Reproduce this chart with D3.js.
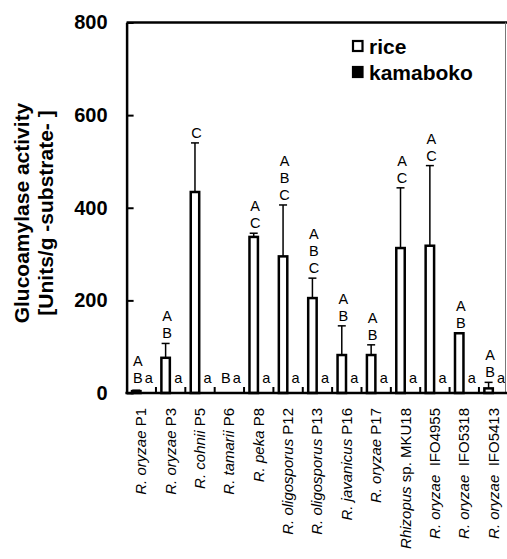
<!DOCTYPE html>
<html lang="en">
<head>
<meta charset="UTF-8">
<title>Glucoamylase activity</title>
<script src="https://d3js.org/d3.v7.min.js"></script>
<style>
    body { margin: 0; background: #fff; }
    svg { font-family: "Liberation Sans", Arial, sans-serif; }
    .tick text { font-size: 20px; font-weight: bold; }
    .letter { font-size: 14.5px; }
    .xlabel { font-size: 15px; }
    .pre { white-space: pre; }
</style>
</head>
<body>
<div id="chart"></div>
<script>
    // strain names: italic genus/species part + plain strain code
    const strainItalic = ["R. oryzae", "R. oryzae", "R. cohnii", "R. tamarii", "R. peka", "R. oligosporus",
        "R. oligosporus", "R. javanicus", "R. oryzae", "Rhizopus", "R. oryzae", "R. oryzae", "R. oryzae"];
    const strainCode = [" P1", " P3", " P5", " P6", " P8", " P12", " P13", " P16", " P17",
        " sp. MKU18", "  IFO4955", "  IFO5318", "  IFO5413"];
    const series = ["rice", "kamaboko"];
    const riceValues = [4, 76, 434, 0, 337, 295, 205, 82, 82, 313, 318, 129, 10];
    const riceErrors = [2, 31, 106, 0, 8, 111, 43, 63, 22, 130, 173, 0, 13];
    const kamabokoValues = [0, 0, 0, 0, 0, 0, 0, 0, 0, 0, 0, 0, 0];
    const kamabokoErrors = [0, 0, 0, 0, 0, 0, 0, 0, 0, 0, 0, 0, 0];
    const riceLetters = [["A", "B"], ["A", "B"], ["C"], ["B"], ["A", "C"], ["A", "B", "C"], ["A", "B", "C"],
        ["A", "B"], ["A", "B"], ["A", "C"], ["A", "C"], ["A", "B"], ["A", "B"]];
    const kamabokoLetters = ["a", "a", "a", "a", "a", "a", "a", "a", "a", "a", "a", "a", "a"];
    const yTicks = [0, 200, 400, 600, 800];

    const width = 507, height = 559;
    const plotLeft = 126.6, plotRight = 508.3, plotTop = 22.5, plotBottom = 393;

    const svg = d3.select("#chart").append("svg")
        .attr("width", width)
        .attr("height", height);

    const x = d3.scaleBand()
        .domain(strainCode.map((d, i) => i))
        .range([plotLeft, plotRight])
        .padding(0);

    const xs = d3.scaleBand()
        .domain(series)
        .range([0, x.bandwidth()])
        .paddingOuter(0.46);

    const y = d3.scaleLinear()
        .domain([0, 800])
        .range([plotBottom, plotTop]);

    const rows = strainCode.map((d, i) => ({
        i: i,
        rice: riceValues[i], riceErr: riceErrors[i], riceLet: riceLetters[i],
        kama: kamabokoValues[i], kamaErr: kamabokoErrors[i], kamaLet: kamabokoLetters[i]
    }));

    // bars
    const barW = xs.bandwidth() - 1.6;
    const g = svg.append("g");
    rows.forEach(r => {
        [["rice", r.rice, "#fff"], ["kamaboko", r.kama, "#000"]].forEach(([s, v, fill]) => {
            if (v <= 0) return;
            const cx = x(r.i) + xs(s) + xs.bandwidth() / 2;
            g.append("rect")
                .attr("x", cx - barW / 2)
                .attr("y", y(v))
                .attr("width", barW)
                .attr("height", y(0) - y(v))
                .attr("fill", fill)
                .attr("stroke", "#000")
                .attr("stroke-width", 2.5);
        });
    });

    // error bars
    rows.forEach(r => {
        if (r.riceErr <= 0) return;
        const cx = x(r.i) + xs("rice") + xs.bandwidth() / 2;
        g.append("line")
            .attr("x1", cx).attr("x2", cx)
            .attr("y1", y(r.rice)).attr("y2", y(r.rice + r.riceErr))
            .attr("stroke", "#000").attr("stroke-width", 1.5);
        g.append("line")
            .attr("x1", cx - 4).attr("x2", cx + 4)
            .attr("y1", y(r.rice + r.riceErr)).attr("y2", y(r.rice + r.riceErr))
            .attr("stroke", "#000").attr("stroke-width", 1.5);
    });

    // significance letters
    rows.forEach(r => {
        const cx = x(r.i) + xs("rice") + xs.bandwidth() / 2 + 1.5;
        const base = Math.min(y(r.rice + r.riceErr) - 5, 383);
        r.riceLet.slice().reverse().forEach((l, k) => {
            g.append("text")
                .attr("class", "letter")
                .attr("x", cx)
                .attr("y", base - k * 17)
                .attr("text-anchor", "middle")
                .text(l);
        });
        const kx = x(r.i) + xs("kamaboko") + xs.bandwidth() / 2 + 2.5;
        g.append("text")
            .attr("class", "letter")
            .attr("x", kx)
            .attr("y", Math.min(y(r.kama + r.kamaErr) - 5, 383))
            .attr("text-anchor", "middle")
            .text(r.kamaLet);
    });

    // frame
    svg.append("line")
        .attr("x1", plotLeft).attr("x2", width)
        .attr("y1", plotTop).attr("y2", plotTop)
        .attr("stroke", "#000").attr("stroke-width", 2.5);
    svg.append("line")
        .attr("x1", 505.5).attr("x2", 505.5)
        .attr("y1", plotTop).attr("y2", plotBottom)
        .attr("stroke", "#777").attr("stroke-width", 1);

    // y axis
    const yAxis = svg.append("g")
        .attr("transform", `translate(${plotLeft},0)`)
        .call(d3.axisLeft(y).tickValues(yTicks).tickSize(-7).tickSizeOuter(0).tickPadding(19));
    yAxis.select(".domain").attr("stroke-width", 2.5);
    yAxis.selectAll(".tick line").attr("stroke-width", 2);
    yAxis.selectAll(".tick text").attr("fill", "#000");

    // x axis line and separators
    svg.append("line")
        .attr("x1", plotLeft - 1.2).attr("x2", width)
        .attr("y1", plotBottom).attr("y2", plotBottom)
        .attr("stroke", "#000").attr("stroke-width", 2.5);
    rows.slice(1).forEach(r => {
        svg.append("line")
            .attr("x1", x(r.i)).attr("x2", x(r.i))
            .attr("y1", plotBottom).attr("y2", plotBottom - 6)
            .attr("stroke", "#000").attr("stroke-width", 2);
    });

    // x labels
    rows.forEach(r => {
        const t = svg.append("text")
            .attr("class", "xlabel pre")
            .attr("text-anchor", "end")
            .attr("transform", `translate(${x(r.i) + x.bandwidth() / 2 + 5},408) rotate(-90)`);
        t.append("tspan").attr("font-style", "italic").text(strainItalic[r.i]);
        t.append("tspan").attr("class", "pre").text(strainCode[r.i]);
    });

    // y title
    const yt = svg.append("text")
        .attr("transform", "translate(28.5,213) rotate(-90)")
        .attr("text-anchor", "middle")
        .attr("font-weight", "bold")
        .attr("font-size", 21);
    yt.append("tspan").attr("x", 0).attr("dy", 0).text("Glucoamylase activity");
    yt.append("tspan").attr("x", 0).attr("dy", 24.5).text("[Units/g -substrate- ]");

    // legend
    const legend = svg.append("g");
    [["rice", "#fff", 41, 54], ["kamaboko", "#000", 67, 80]].forEach(([name, fill, ry, ty]) => {
        legend.append("rect")
            .attr("x", 353).attr("y", ry)
            .attr("width", 9.5).attr("height", 10)
            .attr("fill", fill)
            .attr("stroke", "#000").attr("stroke-width", 2.2);
        legend.append("text")
            .attr("x", 369).attr("y", ty)
            .attr("font-size", 21)
            .attr("font-weight", "bold")
            .text(name);
    });
</script>
</body>
</html>
